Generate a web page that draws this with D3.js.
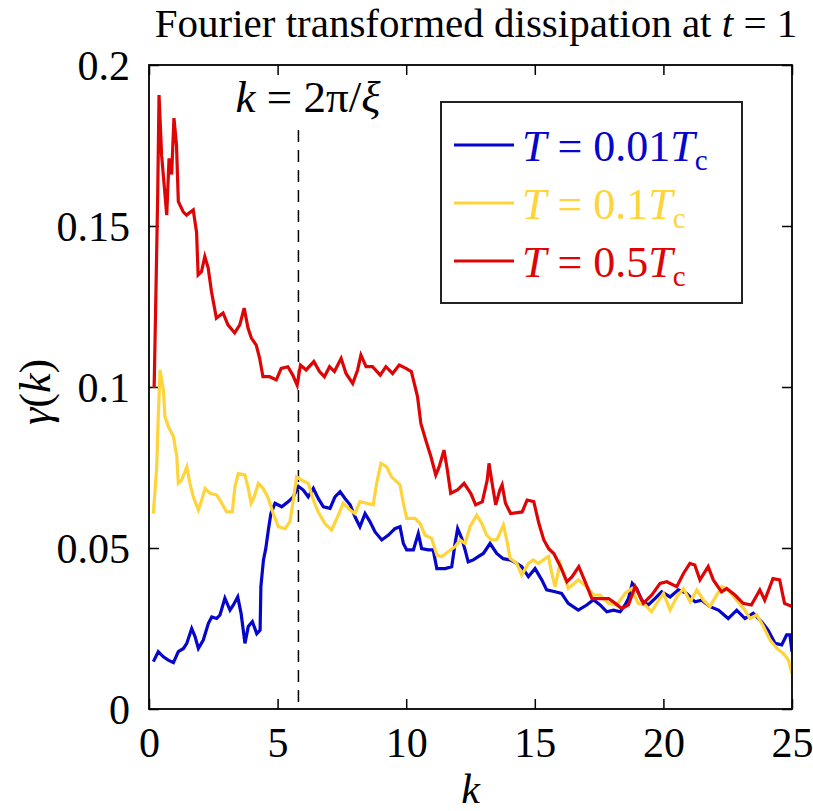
<!DOCTYPE html>
<html>
<head>
<meta charset="utf-8">
<script src="https://cdn.jsdelivr.net/npm/d3@7"></script>
<style>
  body { margin: 0; background: #fff; }
  svg text { font-family: "Liberation Serif", "Times New Roman", serif; }
</style>
</head>
<body>
<svg id="chart" width="813" height="811"></svg>
<script>
// ---- data: [k, gamma(k)] ----
const blueData = [[0.17,0.0147],[0.36,0.0178],[0.56,0.0162],[0.75,0.0152],[0.95,0.0144],[1.14,0.0178],[1.34,0.0188],[1.47,0.0204],[1.66,0.025],[1.79,0.0225],[1.92,0.0188],[2.11,0.0214],[2.31,0.0266],[2.44,0.0286],[2.63,0.0281],[2.76,0.0292],[2.95,0.0344],[3.15,0.0307],[3.28,0.0323],[3.45,0.0348],[3.58,0.0297],[3.73,0.0204],[3.86,0.0256],[4.02,0.0271],[4.19,0.0234],[4.32,0.0245],[4.35,0.038],[4.45,0.0463],[4.54,0.0498],[4.64,0.0556],[4.74,0.0607],[4.9,0.0639],[5.16,0.0628],[5.42,0.0644],[5.61,0.0659],[5.81,0.0691],[6.0,0.068],[6.19,0.0659],[6.39,0.0685],[6.58,0.0654],[6.78,0.0628],[7.04,0.0623],[7.23,0.0659],[7.43,0.0675],[7.62,0.0654],[7.82,0.0634],[8.01,0.0597],[8.2,0.0566],[8.4,0.0607],[8.59,0.0582],[8.79,0.055],[9.05,0.0525],[9.31,0.054],[9.56,0.056],[9.76,0.0566],[9.89,0.0514],[10.02,0.0494],[10.28,0.0494],[10.47,0.0545],[10.6,0.0498],[10.86,0.0494],[11.05,0.0494],[11.19,0.0436],[11.51,0.0436],[11.77,0.0442],[11.9,0.0514],[12.0,0.056],[12.16,0.053],[12.29,0.0494],[12.41,0.0457],[12.61,0.0463],[12.8,0.0473],[13.0,0.0483],[13.26,0.0514],[13.52,0.0483],[13.77,0.0467],[14.04,0.0463],[14.3,0.0452],[14.49,0.0442],[14.75,0.0411],[15.01,0.0436],[15.27,0.0401],[15.46,0.037],[15.79,0.0364],[16.04,0.0359],[16.3,0.0328],[16.69,0.0307],[17.02,0.0323],[17.28,0.0339],[17.54,0.0323],[17.8,0.0302],[18.06,0.0307],[18.32,0.0302],[18.51,0.0323],[18.64,0.0343],[18.79,0.039],[18.96,0.0374],[19.16,0.0338],[19.41,0.0323],[19.67,0.0343],[19.93,0.0364],[20.26,0.0348],[20.58,0.037],[20.9,0.0359],[21.23,0.0333],[21.49,0.0338],[21.81,0.0318],[22.14,0.0307],[22.52,0.0281],[22.85,0.0307],[23.17,0.0281],[23.49,0.0297],[23.82,0.0271],[24.07,0.0245],[24.34,0.0204],[24.6,0.0199],[24.79,0.023],[24.92,0.023],[25.0,0.0178]];

const yellowData = [[0.17,0.0607],[0.3,0.0752],[0.36,0.0908],[0.43,0.1053],[0.56,0.099],[0.62,0.0908],[0.75,0.0877],[0.95,0.0846],[1.08,0.0784],[1.14,0.0701],[1.27,0.0711],[1.47,0.0752],[1.59,0.0701],[1.72,0.0659],[1.92,0.0618],[2.05,0.0649],[2.18,0.0685],[2.37,0.067],[2.63,0.0665],[2.83,0.0639],[3.02,0.0612],[3.24,0.0612],[3.34,0.069],[3.47,0.0731],[3.73,0.0727],[3.86,0.0685],[3.97,0.0639],[4.09,0.0659],[4.25,0.0701],[4.44,0.0685],[4.64,0.0654],[4.83,0.0607],[5.03,0.0566],[5.29,0.056],[5.48,0.0582],[5.61,0.0649],[5.74,0.0721],[5.94,0.0711],[6.19,0.0701],[6.39,0.0649],[6.58,0.0612],[6.84,0.0576],[7.1,0.0556],[7.36,0.0602],[7.55,0.0639],[7.82,0.0618],[8.01,0.0607],[8.2,0.0644],[8.46,0.0639],[8.72,0.0634],[8.85,0.0701],[9.02,0.0763],[9.24,0.0752],[9.43,0.0721],[9.76,0.0696],[9.89,0.0639],[10.02,0.0592],[10.34,0.0592],[10.54,0.0576],[10.73,0.054],[10.99,0.053],[11.19,0.0478],[11.38,0.0473],[11.64,0.0489],[11.9,0.0504],[12.09,0.0525],[12.29,0.0514],[12.48,0.0566],[12.74,0.0602],[12.94,0.0576],[13.13,0.054],[13.32,0.0525],[13.52,0.0525],[13.78,0.0571],[13.91,0.0525],[14.04,0.0468],[14.3,0.0452],[14.49,0.0416],[14.75,0.0452],[14.94,0.0463],[15.14,0.0452],[15.33,0.0463],[15.53,0.0473],[15.66,0.0421],[15.79,0.038],[15.98,0.0452],[16.3,0.0374],[16.69,0.0401],[17.02,0.038],[17.28,0.0354],[17.54,0.0354],[17.86,0.0328],[18.19,0.0323],[18.51,0.0359],[18.77,0.0374],[19.02,0.0328],[19.29,0.0323],[19.54,0.0302],[19.74,0.0328],[20.0,0.0359],[20.26,0.0307],[20.52,0.0348],[20.78,0.0374],[21.04,0.0333],[21.3,0.037],[21.56,0.0338],[21.81,0.0318],[22.07,0.0354],[22.27,0.038],[22.52,0.037],[22.85,0.0338],[23.17,0.0307],[23.37,0.0281],[23.63,0.0292],[23.89,0.0256],[24.15,0.0214],[24.41,0.0188],[24.67,0.0172],[24.86,0.0152],[25.0,0.011]];

const redData = [[0.2,0.0997],[0.27,0.1295],[0.34,0.1607],[0.39,0.1907],[0.49,0.172],[0.59,0.1627],[0.69,0.1534],[0.78,0.171],[0.88,0.166],[0.97,0.1835],[1.07,0.175],[1.14,0.1576],[1.33,0.1544],[1.46,0.1534],[1.72,0.155],[1.85,0.148],[1.91,0.1348],[2.04,0.1358],[2.17,0.1405],[2.3,0.137],[2.43,0.1296],[2.62,0.1214],[2.88,0.123],[3.07,0.1193],[3.33,0.1168],[3.53,0.1193],[3.7,0.1245],[3.85,0.1183],[3.98,0.1152],[4.17,0.113],[4.3,0.109],[4.43,0.1032],[4.69,0.1032],[4.95,0.1022],[5.14,0.1058],[5.4,0.1063],[5.59,0.1037],[5.76,0.1006],[5.89,0.1068],[6.11,0.1053],[6.41,0.1079],[6.63,0.1048],[6.82,0.1032],[7.02,0.1063],[7.21,0.1048],[7.47,0.1089],[7.66,0.1042],[7.92,0.1011],[8.11,0.1053],[8.24,0.1099],[8.44,0.1063],[8.69,0.1063],[8.99,0.1037],[9.21,0.1063],[9.47,0.1042],[9.73,0.1068],[9.99,0.1058],[10.2,0.1048],[10.44,0.097],[10.57,0.0887],[10.76,0.0835],[10.96,0.0784],[11.15,0.0727],[11.28,0.0752],[11.47,0.0804],[11.6,0.0742],[11.73,0.067],[11.99,0.068],[12.25,0.0701],[12.51,0.067],[12.7,0.0634],[12.96,0.0644],[13.15,0.0711],[13.22,0.0763],[13.34,0.0701],[13.48,0.0634],[13.64,0.068],[13.73,0.0696],[13.86,0.0639],[14.06,0.0607],[14.51,0.0612],[14.7,0.0649],[14.96,0.0644],[15.16,0.0576],[15.35,0.0525],[15.54,0.0498],[15.74,0.0483],[16.0,0.0442],[16.25,0.0395],[16.45,0.0411],[16.71,0.0442],[16.96,0.0395],[17.22,0.0343],[17.55,0.0343],[17.87,0.0343],[18.13,0.0328],[18.38,0.0312],[18.64,0.0323],[18.9,0.038],[19.03,0.0359],[19.22,0.0328],[19.55,0.0354],[19.87,0.039],[20.13,0.0395],[20.52,0.038],[20.78,0.0421],[21.03,0.0452],[21.22,0.0447],[21.42,0.0401],[21.74,0.0442],[21.94,0.0401],[22.26,0.0364],[22.46,0.0374],[22.78,0.0354],[23.1,0.0328],[23.42,0.0323],[23.75,0.037],[23.94,0.0338],[24.26,0.0405],[24.52,0.0401],[24.71,0.0328],[25.0,0.0318]];

const xTicks = [0, 5, 10, 15, 20, 25];
const yTicks = [0, 0.05, 0.1, 0.15, 0.2];
const yTickLabels = ["0", "0.05", "0.1", "0.15", "0.2"];
const kMarker = 5.81; // k = 2π/ξ

const seriesNames = ["0.01", "0.1", "0.5"];
const seriesColors = ["#0505cc", "#ffd43a", "#dd0505"];

//layout
const mLeft = 149, mRight = 792, mTop = 65, mBottom = 709;
const serif = "'Liberation Serif', 'Times New Roman', serif";

const svg = d3.select("#chart");

const x = d3.scaleLinear().domain([0, 25]).range([mLeft, mRight]);
const y = d3.scaleLinear().domain([0, 0.2]).range([mBottom, mTop]);

svg.append("defs").append("clipPath").attr("id", "plotclip")
	.append("rect")
	.attr("x", mLeft).attr("y", mTop)
	.attr("width", mRight - mLeft).attr("height", mBottom - mTop);

//axes with inward ticks on all four sides
const tickLen = 10;
const axB = svg.append("g").attr("transform", `translate(0,${mBottom})`)
	.call(d3.axisBottom(x).tickValues(xTicks).tickSize(-tickLen).tickPadding(16).tickFormat(d3.format("d")));
const axT = svg.append("g").attr("transform", `translate(0,${mTop})`)
	.call(d3.axisTop(x).tickValues(xTicks).tickSize(-tickLen).tickFormat(""));
const axL = svg.append("g").attr("transform", `translate(${mLeft},0)`)
	.call(d3.axisLeft(y).tickValues(yTicks).tickSize(-tickLen).tickPadding(19)
		.tickFormat((d, i) => yTickLabels[i]));
const axR = svg.append("g").attr("transform", `translate(${mRight},0)`)
	.call(d3.axisRight(y).tickValues(yTicks).tickSize(-tickLen).tickFormat(""));

[axB, axT, axL, axR].forEach(a => {
	a.attr("font-family", serif).attr("font-size", 42);
	a.select(".domain").remove();
	a.selectAll("line").attr("stroke", "#000").attr("stroke-width", 1.5);
	a.selectAll("text").attr("fill", "#000");
});
axB.selectAll("text").attr("dy", "0.76em");
axL.selectAll("text").attr("dy", "0.34em");

//dashed marker line
svg.append("line")
	.attr("x1", x(kMarker)).attr("x2", x(kMarker))
	.attr("y1", 130).attr("y2", mBottom)
	.attr("stroke", "#000").attr("stroke-width", 1.5)
	.attr("stroke-dasharray", "12,8");

//lines
const line = d3.line().x(d => x(d[0])).y(d => y(d[1]));
const plot = svg.append("g").attr("clip-path", "url(#plotclip)");
[blueData, yellowData, redData].forEach((data, i) => {
	plot.append("path")
		.datum(data)
		.attr("d", line)
		.attr("fill", "none")
		.attr("stroke", seriesColors[i])
		.attr("stroke-width", 3.2)
		.attr("stroke-linejoin", "miter");
});

//box
svg.append("rect")
	.attr("x", mLeft).attr("y", mTop)
	.attr("width", mRight - mLeft).attr("height", mBottom - mTop)
	.attr("fill", "none").attr("stroke", "#000").attr("stroke-width", 1.8);

//marker label
const mk = svg.append("text")
	.attr("x", 308).attr("y", 112)
	.attr("text-anchor", "middle")
	.style("font-size", "45px");
mk.append("tspan").attr("font-style", "italic").text("k");
mk.append("tspan").text(" = 2π/");
mk.append("tspan").attr("font-style", "italic").text("ξ");

//title
const title = svg.append("text")
	.attr("x", 476).attr("y", 37)
	.attr("text-anchor", "middle")
	.style("font-size", "41px");
title.append("tspan").text("Fourier transformed dissipation at ");
title.append("tspan").attr("font-style", "italic").text("t");
title.append("tspan").text(" = 1");

//axis labels
svg.append("text")
	.attr("x", (mLeft + mRight) / 2).attr("y", 803)
	.attr("text-anchor", "middle")
	.attr("font-style", "italic")
	.style("font-size", "42px")
	.text("k");

const yl = svg.append("text")
	.attr("transform", `translate(50,392) rotate(-90)`)
	.attr("text-anchor", "middle")
	.style("font-size", "44px");
yl.append("tspan").attr("font-style", "italic").text("γ");
yl.append("tspan").text("(");
yl.append("tspan").attr("font-style", "italic").text("k");
yl.append("tspan").text(")");

//legend
const legend = svg.append("g");
legend.append("rect")
	.attr("x", 441).attr("y", 102)
	.attr("width", 301).attr("height", 201)
	.attr("fill", "#fff").attr("stroke", "#222").attr("stroke-width", 2);

seriesNames.forEach((name, i) => {
	const yy = 145 + i * 58;
	legend.append("line")
		.attr("x1", 454).attr("x2", 514)
		.attr("y1", yy).attr("y2", yy)
		.attr("stroke", seriesColors[i]).attr("stroke-width", 3.2);
	const t = legend.append("text")
		.attr("x", 522).attr("y", yy + 16)
		.attr("fill", seriesColors[i])
		.style("font-size", "44px");
	t.append("tspan").attr("font-style", "italic").text("T");
	t.append("tspan").text(" = " + name);
	t.append("tspan").attr("font-style", "italic").text("T");
	t.append("tspan").attr("dy", 9).style("font-size", "29px").text("c");
});
</script>
</body>
</html>
